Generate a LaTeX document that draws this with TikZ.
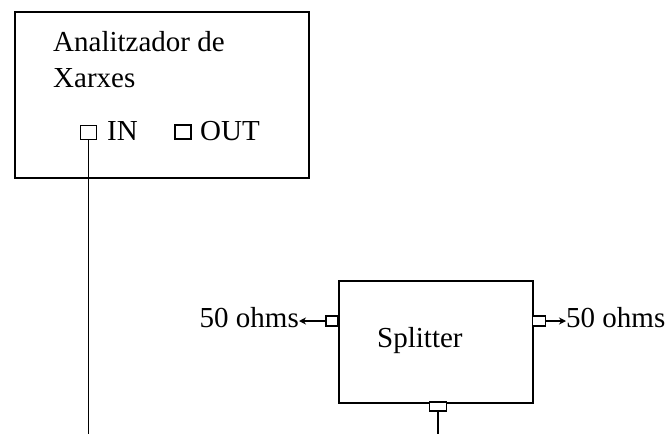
\documentclass[tikz,border=0pt]{standalone}
\usepackage{fontspec}
\setmainfont{Liberation Serif}
\usetikzlibrary{arrows.meta}
\begin{document}
\begin{tikzpicture}[x=1pt,y=-1pt,
  box/.style={draw,line width=2pt,inner sep=0pt,anchor=north west},
  port/.style={draw,line width=1.7pt,inner sep=0pt,fill=white},
  lbl/.style={inner sep=0pt,font=\fontsize{29}{34}\selectfont},
  wire/.style={line width=1.8pt},
  arr/.style={line width=1.6pt,-{Stealth[length=7pt,width=7pt]}}]
\useasboundingbox (0,0) rectangle (667,434);
% Analyzer
\node[box,minimum width=294pt,minimum height=166pt] (an) at (14,11) {};
\node[lbl,anchor=base west] (t1) at (53,51) {Analitzador de};
\node[lbl,anchor=base west] (t2) at (53,87) {Xarxes};
\node[port,minimum width=16pt,minimum height=14pt] (inp) at (88.5,132.5) {};
\node[port,minimum width=16pt,minimum height=14pt] (outp) at (183,132) {};
\node[lbl,anchor=base west] (tin) at (107,140) {IN};
\node[lbl,anchor=base west] (tout) at (200,140) {OUT};
\coordinate (inend) at (88.5,434);
\draw[wire] (inp.south) -- (inend);
% Splitter
\node[box,minimum width=194pt,minimum height=122pt] (sp) at (338,280) {};
\node[lbl,anchor=base west] (tsp) at (377,347) {Splitter};
\node[port,minimum width=12pt,minimum height=10.5pt] (lp) at (332,321) {};
\node[port,minimum width=13pt,minimum height=10.5pt] (rp) at (539,321) {};
\node[port,minimum width=17pt,minimum height=9pt] (bp) at (438,406.5) {};
\node[lbl,anchor=base east] (l50) at (299,327) {50 ohms};
\node[lbl,anchor=base west] (r50) at (566,327) {50 ohms};
\draw[arr] (lp.west) -- (l50.east |- lp.west);
\draw[arr] (rp.east) -- (r50.west |- rp.east);
\coordinate (bend) at (438,434);
\draw[wire] (bp.south) -- (bend);
\end{tikzpicture}
\end{document}
